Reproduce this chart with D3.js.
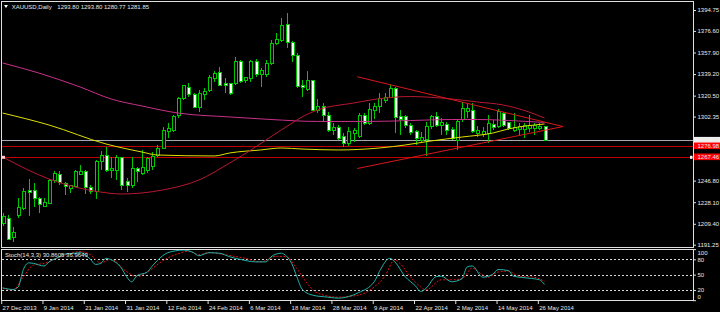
<!DOCTYPE html>
<html>
<head>
<meta charset="utf-8">
<script src="https://cdn.jsdelivr.net/npm/d3@7"></script>
<style>
  html, body { margin: 0; padding: 0; background: #000; }
  svg { display: block; }
  text { font-family: "Liberation Sans", Arial, sans-serif; font-size: 6px; fill: #e8e8e8; }
</style>
</head>
<body>
<svg id="chart" width="720" height="312"></svg>
<script>
// header quote of the running bar
const symbolName = 'XAUUSD,Daily';
const lastQuote = [1293.80, 1293.80, 1280.77, 1281.85];

// daily candles, [open, high, low, close], 27 Dec 2013 .. 27 May 2014
const candles = [
  [1209.8,1218.5,1207.5,1215.5],[1214.1,1217.0,1195.3,1195.9],[1197.3,1206.3,1193.8,1202.0],
  [1217.0,1231.5,1214.1,1223.9],[1222.8,1240.2,1221.3,1237.2],[1238.1,1248.0,1216.1,1236.9],
  [1238.1,1244.5,1224.2,1231.5],[1231.5,1232.9,1218.5,1225.7],[1224.8,1231.5,1224.2,1227.7],
  [1227.1,1248.0,1226.5,1247.3],[1247.3,1255.4,1244.5,1253.2],[1252.5,1255.2,1243.0,1245.0],
  [1244.5,1245.9,1234.3,1241.5],[1240.2,1243.0,1236.3,1242.6],[1241.5,1256.0,1241.0,1254.5],
  [1252.5,1260.4,1251.7,1254.5],[1254.5,1256.0,1235.2,1241.0],[1241.0,1243.0,1235.2,1237.2],
  [1237.2,1264.7,1230.9,1263.8],[1263.8,1272.5,1256.0,1268.2],[1269.0,1276.2,1254.5,1256.0],
  [1255.4,1267.5,1248.8,1257.5],[1256.0,1269.0,1247.3,1267.0],[1267.0,1267.5,1238.7,1243.0],
  [1245.9,1248.8,1237.2,1243.0],[1243.0,1267.0,1240.2,1257.5],[1257.5,1258.9,1245.9,1254.5],
  [1253.4,1273.4,1251.7,1257.8],[1256.0,1267.5,1253.2,1266.2],[1259.0,1271.9,1256.0,1267.5],
  [1268.2,1277.7,1267.5,1274.8],[1274.8,1293.6,1274.0,1290.7],[1289.0,1296.5,1283.5,1292.4],
  [1290.7,1303.7,1289.2,1302.2],[1303.7,1319.6,1300.8,1318.2],[1318.2,1329.7,1316.7,1328.9],
  [1327.7,1331.2,1319.6,1321.1],[1321.9,1323.0,1309.5,1310.4],[1310.4,1325.4,1306.6,1322.5],
  [1321.1,1326.9,1316.7,1323.7],[1324.8,1338.4,1323.9,1336.4],[1335.5,1342.1,1332.6,1339.9],
  [1340.4,1345.6,1328.9,1329.7],[1330.6,1335.5,1322.5,1329.5],[1330.6,1331.7,1321.1,1322.5],
  [1331.2,1354.3,1329.7,1349.9],[1349.9,1351.4,1331.2,1332.6],[1333.4,1336.9,1331.2,1336.4],
  [1335.5,1351.4,1332.6,1350.5],[1350.5,1352.0,1336.4,1338.4],[1339.0,1344.2,1327.7,1342.7],
  [1338.4,1351.4,1336.9,1348.5],[1348.5,1368.7,1347.1,1365.9],[1365.9,1374.6,1364.4,1369.6],
  [1368.7,1387.6,1367.3,1380.9],[1382.6,1391.9,1361.5,1366.4],[1366.7,1367.5,1349.9,1354.9],
  [1355.7,1357.2,1326.9,1328.2],[1329.7,1334.1,1319.6,1327.7],[1326.0,1342.1,1324.8,1333.4],
  [1333.4,1334.1,1307.4,1308.0],[1308.0,1317.3,1305.2,1311.5],[1310.9,1313.9,1297.9,1303.7],
  [1303.7,1306.3,1289.2,1290.7],[1290.7,1296.5,1286.4,1293.0],[1292.7,1295.0,1282.0,1283.5],
  [1284.9,1287.8,1276.2,1278.6],[1278.6,1293.6,1276.8,1289.8],[1287.8,1292.2,1280.6,1290.1],
  [1284.9,1305.2,1283.5,1303.7],[1303.7,1305.7,1295.0,1296.5],[1296.5,1313.9,1295.0,1308.7],
  [1307.2,1313.9,1300.0,1311.5],[1310.9,1322.5,1305.2,1318.2],[1316.7,1323.0,1313.9,1318.7],
  [1319.1,1329.7,1318.2,1326.9],[1326.9,1327.7,1287.8,1301.7],[1302.2,1308.0,1286.4,1299.4],
  [1302.2,1303.7,1292.2,1294.2],[1294.2,1296.5,1286.4,1288.4],[1289.8,1290.7,1277.7,1283.5],
  [1282.0,1289.2,1279.7,1284.4],[1282.6,1297.9,1268.2,1293.6],[1293.6,1303.7,1291.3,1302.2],
  [1302.8,1306.6,1293.6,1295.0],[1294.2,1300.8,1286.4,1297.0],[1295.6,1297.9,1286.4,1290.1],
  [1291.3,1293.6,1282.0,1283.5],[1282.0,1299.4,1273.4,1297.9],[1299.4,1315.2,1297.9,1309.5],
  [1306.6,1314.4,1300.8,1309.5],[1308.0,1313.9,1287.8,1289.2],[1287.8,1294.2,1284.9,1290.1],
  [1287.2,1293.6,1284.9,1289.2],[1287.8,1303.7,1279.2,1296.5],[1295.9,1299.4,1290.7,1292.7],
  [1293.6,1308.7,1292.2,1306.6],[1305.2,1306.6,1293.6,1295.0],[1297.0,1297.9,1290.7,1292.2],
  [1290.7,1305.2,1289.2,1292.7],[1291.3,1297.0,1286.4,1293.6],[1291.3,1296.5,1283.5,1294.2],
  [1292.2,1303.7,1289.2,1294.2],[1292.2,1296.5,1286.4,1295.0],[1292.2,1296.5,1290.7,1293.8],
  [1293.8,1293.8,1280.77,1281.85]
];

// moving averages, [bar, price]
const maYellow = [[0,1305.4],[9,1295.0],[20,1278.6],[27,1271.6],[30,1269.0],[41,1268.2],[44,1270.8],
  [50,1273.4],[54,1275.1],[58,1274.2],[65,1273.4],[73,1275.1],[78,1277.7],[83,1281.2],[89,1284.6],
  [95,1288.1],[98,1291.6],[105,1295.9]];
const maMagenta = [[0,1348.8],[7,1340.1],[15,1328.0],[21,1317.6],[27,1311.5],[34,1305.4],[44,1302.0],
  [52,1299.8],[61,1298.1],[71,1298.1],[79,1298.9],[87,1299.8],[92,1299.8],[100,1298.5],[105,1297.3]];
const maCrimson = [[0,1267.3],[9,1248.2],[14,1241.3],[19,1236.9],[23,1235.2],[27,1236.1],[31,1238.7],
  [38,1247.3],[44,1262.1],[49,1275.9],[52,1284.9],[56,1296.5],[58,1302.0],[61,1308.0],[68,1314.1],
  [74,1318.4],[79,1319.7],[87,1317.6],[92,1315.0],[97,1312.4],[102,1306.3],[105,1301.1]];

// triangle trend lines, [bar, price]
const trendUpper = [[68.7,1336.9],[108.6,1293.7]];
const trendLower = [[68.7,1257.3],[108.6,1293.7]];

// horizontal lines
const bidPrice = 1281.85;
const hLevels = [1276.98, 1267.46];

// stochastic (14,3,3), [bar, value]
const stochMain = [[0,24],[2,21],[3,26],[4,60],[5,73],[6,72],[8,67],[9,75],[11,85],[12,90],[14,92],
  [15,93],[17,80],[18,70],[19,72],[20,82],[21,79],[23,63],[24,46],[25,36],[26,48],[28,55],[29,67],
  [31,87],[32,93],[35,98],[37,93],[38,87],[40,93],[42,92],[44,85],[46,80],[49,75],[51,75],[52,85],
  [54,92],[55,86],[56,72],[57,46],[58,22],[60,10],[63,6],[65,4],[67,7],[69,15],[72,36],[73,56],
  [75,82],[76,75],[78,46],[80,28],[81,17],[82,23],[84,46],[85,47],[87,36],[89,42],[90,65],[91,67],
  [93,45],[95,51],[96,60],[98,58],[99,47],[102,43],[104,40],[105,30.86]];
const stochSignal = [[0,24],[2,20],[4,46],[6,69],[8,72],[10,80],[12,88],[15,95],[17,89],[19,73],
  [21,80],[24,56],[26,46],[28,55],[31,77],[34,91],[36,96],[38,89],[40,93],[43,89],[47,82],[50,75],
  [53,86],[55,85],[57,62],[59,33],[61,14],[65,6],[69,10],[72,26],[74,46],[76,79],[77,72],[79,46],
  [81,26],[82,20],[85,40],[87,40],[89,42],[91,63],[92,57],[94,45],[96,55],[98,57],[100,47],
  [103,45],[105,36.96]];
const stochLabel = 'Stoch(14,3,3) 30.8605 36.9649';
const stochLevels = [80, 50, 20];
const stochTicks = [100, 80, 50, 20, 0];

// axis labels (1283.65 and 1265.50 sit under the price boxes, only their ticks show)
const priceTicks = [1394.75, 1376.60, 1357.90, 1339.20, 1320.50, 1302.35, 1283.65, 1265.50,
  1246.80, 1228.10, 1209.40, 1191.25];
const hiddenTicks = [1283.65, 1265.50];
const dateLabels = ['27 Dec 2013','9 Jan 2014','21 Jan 2014','31 Jan 2014','12 Feb 2014',
  '24 Feb 2014','6 Mar 2014','18 Mar 2014','28 Mar 2014','9 Apr 2014','22 Apr 2014',
  '2 May 2014','14 May 2014','26 May 2014'];
const barsPerLabel = 8;

const svg = d3.select('#chart');
const axisX = 693;

const x = d3.scaleLinear().domain([0, 105]).range([2.7, 544.5]);
const y = d3.scaleLinear().domain([1191.25, 1394.75]).range([244.7, 10]);
const ys = d3.scaleLinear().domain([0, 100]).range([300.2, 249.1]);

svg.append('rect').attr('width', 720).attr('height', 312).attr('fill', '#000');

const defs = svg.append('defs');
defs.append('clipPath').attr('id', 'clipMain').append('rect')
  .attr('x', 2).attr('y', 2).attr('width', axisX - 2).attr('height', 245);
defs.append('clipPath').attr('id', 'clipStoch').append('rect')
  .attr('x', 2).attr('y', 250).attr('width', axisX - 2).attr('height', 51);

const main = svg.append('g').attr('clip-path', 'url(#clipMain)');

// horizontal lines
main.append('line').attr('x1', 2).attr('x2', axisX)
  .attr('y1', Math.round(y(bidPrice)) + 0.5).attr('y2', Math.round(y(bidPrice)) + 0.5)
  .attr('stroke', '#a8a8b0');
main.selectAll('.hlevel').data(hLevels).enter().append('line')
  .attr('class', 'hlevel')
  .attr('x1', 2).attr('x2', axisX)
  .attr('y1', d => Math.round(y(d)) + 0.5).attr('y2', d => Math.round(y(d)) + 0.5)
  .attr('stroke', '#c00000');

// candles
const cg = main.append('g').attr('shape-rendering', 'crispEdges');
const green = '#00c800';
const bars = cg.selectAll('g').data(candles).enter().append('g');
bars.append('line')
  .attr('x1', (d, i) => Math.round(x(i)) + 0.5)
  .attr('x2', (d, i) => Math.round(x(i)) + 0.5)
  .attr('y1', d => y(d[1]))
  .attr('y2', d => y(d[2]))
  .attr('stroke', green);
bars.append('rect')
  .attr('x', (d, i) => Math.round(x(i)) - 1)
  .attr('width', 3)
  .attr('y', d => y(Math.max(d[0], d[3])))
  .attr('height', d => Math.max(1, Math.abs(y(d[0]) - y(d[3]))))
  .attr('fill', d => d[3] < d[0] ? '#f4fff4' : '#000')
  .attr('stroke', green)
  .attr('stroke-width', 1);

// moving averages
const priceLine = d3.line().x(d => x(d[0])).y(d => y(d[1])).curve(d3.curveMonotoneX);
main.append('path').attr('d', priceLine(maYellow)).attr('fill', 'none')
  .attr('stroke', '#e0e000').attr('stroke-width', 1);
main.append('path').attr('d', priceLine(maMagenta)).attr('fill', 'none')
  .attr('stroke', '#c8308a').attr('stroke-width', 1);
main.append('path').attr('d', priceLine(maCrimson)).attr('fill', 'none')
  .attr('stroke', '#b81830').attr('stroke-width', 1);

// trend lines
const straight = d3.line().x(d => x(d[0])).y(d => y(d[1]));
[trendUpper, trendLower].forEach(t => {
  main.append('path').attr('d', straight(t)).attr('fill', 'none')
    .attr('stroke', '#d81818').attr('stroke-width', 1);
});

// line handles
main.append('rect').attr('x', 2).attr('y', y(hLevels[1]) - 1).attr('width', 3).attr('height', 3)
  .attr('fill', '#ffc8c8');
main.append('rect').attr('x', axisX - 3).attr('y', y(hLevels[1]) - 1).attr('width', 2.5).attr('height', 3)
  .attr('fill', '#ffffff');

// stochastic panel
const sg = svg.append('g').attr('clip-path', 'url(#clipStoch)');
sg.selectAll('.lvl').data(stochLevels).enter().append('line')
  .attr('class', 'lvl')
  .attr('x1', 2).attr('x2', axisX)
  .attr('y1', d => Math.round(ys(d)) + 0.5).attr('y2', d => Math.round(ys(d)) + 0.5)
  .attr('stroke', '#d8d8d8').attr('stroke-dasharray', '2,2');
const stochLine = d3.line().x(d => x(d[0])).y(d => ys(d[1])).curve(d3.curveMonotoneX);
sg.append('path').attr('d', stochLine(stochSignal)).attr('fill', 'none')
  .attr('stroke', '#e01010').attr('stroke-width', 1).attr('stroke-dasharray', '2,1.5');
sg.append('path').attr('d', stochLine(stochMain)).attr('fill', 'none')
  .attr('stroke', '#20b2aa').attr('stroke-width', 1);

svg.append('text').attr('x', 5).attr('y', 256.8).text(stochLabel);

// frames
const frame = svg.append('g').attr('fill', 'none').attr('stroke', '#e0e0e0').attr('shape-rendering', 'crispEdges');
frame.append('rect').attr('x', 1.5).attr('y', 1.5).attr('width', axisX - 1.5).attr('height', 245.5);
frame.append('rect').attr('x', 1.5).attr('y', 249.5).attr('width', axisX - 1.5).attr('height', 51);

// price axis
const yAxis = svg.append('g').attr('transform', `translate(${axisX},0)`)
  .call(d3.axisRight(y).tickValues(priceTicks).tickSize(3).tickSizeOuter(0).tickPadding(1.5)
    .tickFormat(d => hiddenTicks.includes(d) ? '' : d3.format('.2f')(d)));
yAxis.select('.domain').remove();
yAxis.selectAll('line').attr('stroke', '#e0e0e0');
yAxis.selectAll('text').attr('fill', '#e8e8e8').style('font-size', '6px')
  .style('font-family', '"Liberation Sans", Arial, sans-serif');

// stochastic axis
const sAxis = svg.append('g').attr('transform', `translate(${axisX},0)`)
  .call(d3.axisRight(ys).tickValues(stochTicks).tickSize(3).tickSizeOuter(0).tickPadding(1.5));
sAxis.select('.domain').remove();
sAxis.selectAll('line').attr('stroke', '#e0e0e0');
sAxis.selectAll('text').attr('fill', '#e8e8e8').style('font-size', '6px')
  .style('font-family', '"Liberation Sans", Arial, sans-serif')
  .attr('y', d => d === 100 ? 3.2 : (d === 0 ? -3.5 : 0));

// price boxes on the axis
const boxes = [
  { v: bidPrice, fill: '#f0f0f0', color: '#000' },
  { v: hLevels[0], fill: '#ff0000', color: '#fff' },
  { v: hLevels[1], fill: '#ff0000', color: '#fff' }
];
boxes.forEach(b => {
  svg.append('rect').attr('x', axisX + 1).attr('y', y(b.v) - 3.3).attr('width', 720 - axisX - 1)
    .attr('height', 6.6).attr('fill', b.fill);
  svg.append('text').attr('x', axisX + 4.5).attr('y', y(b.v) + 2.1).attr('fill', b.color)
    .text(d3.format('.2f')(b.v));
});

// date axis
const xAxis = svg.append('g').attr('transform', 'translate(-1.5,301)')
  .call(d3.axisBottom(x).tickValues(dateLabels.map((d, i) => i * barsPerLabel))
    .tickFormat((d, i) => dateLabels[i]).tickSize(3).tickSizeOuter(0));
xAxis.select('.domain').remove();
xAxis.selectAll('line').attr('stroke', '#e0e0e0');
xAxis.selectAll('text').attr('fill', '#e8e8e8').style('font-size', '6px')
  .style('font-family', '"Liberation Sans", Arial, sans-serif')
  .attr('text-anchor', 'start').attr('x', 0.9).attr('y', 5);

// header
svg.append('path').attr('d', 'M4,5 L8,5 L6,8 Z').attr('fill', '#fff');
svg.append('text').attr('x', 11.7).attr('y', 8.8).text(symbolName);
svg.append('text').attr('x', 57.3).attr('y', 8.8).text(lastQuote.map(d3.format('.2f')).join(' '));
</script>
</body>
</html>
